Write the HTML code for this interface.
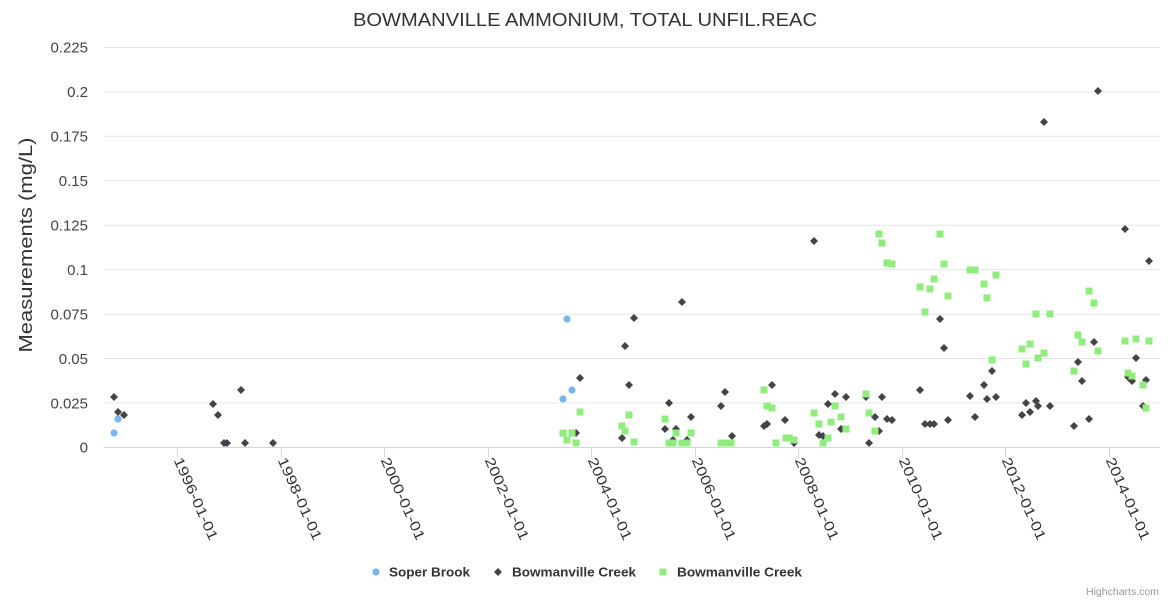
<!DOCTYPE html>
<html><head><meta charset="utf-8">
<style>
html,body{margin:0;padding:0;background:#fff;}
svg{display:block;font-family:"Liberation Sans",sans-serif;}
</style></head>
<body>
<svg width="1170" height="600" viewBox="0 0 1170 600" xmlns="http://www.w3.org/2000/svg">
<rect width="1170" height="600" fill="#fff"/>
<text x="585" y="26" text-anchor="middle" font-size="18" fill="#333" textLength="464" lengthAdjust="spacingAndGlyphs">BOWMANVILLE AMMONIUM, TOTAL UNFIL.REAC</text>
<path stroke="#e6e6e6" stroke-width="1" d="M104 47.5H1160M104 91.9H1160M104 136.3H1160M104 180.8H1160M104 225.2H1160M104 269.6H1160M104 314.1H1160M104 358.5H1160M104 402.9H1160"/>
<path d="M104 447.5H1160" stroke="#ccd6eb" stroke-width="1"/>
<path stroke="#ccd6eb" stroke-width="1" d="M177.5 447V457M281.5 447V457M384.5 447V457M488.5 447V457M591.5 447V457M695.5 447V457M798.5 447V457M902.5 447V457M1005.5 447V457M1109.5 447V457"/>
<g font-size="15" fill="#444" text-anchor="end">
<text x="88" y="52.5">0.225</text>
<text x="88" y="97">0.2</text>
<text x="88" y="141.5">0.175</text>
<text x="88" y="186">0.15</text>
<text x="88" y="230.5">0.125</text>
<text x="88" y="275">0.1</text>
<text x="88" y="319.5">0.075</text>
<text x="88" y="364">0.05</text>
<text x="88" y="408.5">0.025</text>
<text x="88" y="452.5">0</text>
</g>
<text transform="translate(32,245) rotate(-90)" text-anchor="middle" font-size="18" fill="#333" textLength="215" lengthAdjust="spacingAndGlyphs">Measurements (mg/L)</text>
<g font-size="14" fill="#333">
<text transform="translate(173.5,460) rotate(66)" textLength="89" lengthAdjust="spacingAndGlyphs">1996-01-01</text>
<text transform="translate(277.5,460) rotate(66)" textLength="89" lengthAdjust="spacingAndGlyphs">1998-01-01</text>
<text transform="translate(380.5,460) rotate(66)" textLength="89" lengthAdjust="spacingAndGlyphs">2000-01-01</text>
<text transform="translate(484.5,460) rotate(66)" textLength="89" lengthAdjust="spacingAndGlyphs">2002-01-01</text>
<text transform="translate(587.5,460) rotate(66)" textLength="89" lengthAdjust="spacingAndGlyphs">2004-01-01</text>
<text transform="translate(691.5,460) rotate(66)" textLength="89" lengthAdjust="spacingAndGlyphs">2006-01-01</text>
<text transform="translate(794.5,460) rotate(66)" textLength="89" lengthAdjust="spacingAndGlyphs">2008-01-01</text>
<text transform="translate(898.5,460) rotate(66)" textLength="89" lengthAdjust="spacingAndGlyphs">2010-01-01</text>
<text transform="translate(1001.5,460) rotate(66)" textLength="89" lengthAdjust="spacingAndGlyphs">2012-01-01</text>
<text transform="translate(1105.5,460) rotate(66)" textLength="89" lengthAdjust="spacingAndGlyphs">2014-01-01</text>
</g>
<g fill="#7cb5ec">
<circle cx="114" cy="433" r="3.6"/>
<circle cx="118" cy="419" r="3.6"/>
<circle cx="563" cy="399" r="3.6"/>
<circle cx="567" cy="319" r="3.6"/>
<circle cx="572" cy="390" r="3.6"/>
</g>
<path fill="#434348" d="M114 393l4 4-4 4-4-4zM118 408l4 4-4 4-4-4zM124 411l4 4-4 4-4-4zM213 400l4 4-4 4-4-4zM218 411l4 4-4 4-4-4zM224 439l4 4-4 4-4-4zM227 439l4 4-4 4-4-4zM241 386l4 4-4 4-4-4zM245 439l4 4-4 4-4-4zM273 439l4 4-4 4-4-4zM576 429l4 4-4 4-4-4zM580 374l4 4-4 4-4-4zM622 434l4 4-4 4-4-4zM625 342l4 4-4 4-4-4zM629 381l4 4-4 4-4-4zM634 314l4 4-4 4-4-4zM665 425l4 4-4 4-4-4zM669 399l4 4-4 4-4-4zM673 436l4 4-4 4-4-4zM676 425l4 4-4 4-4-4zM682 298l4 4-4 4-4-4zM687 436l4 4-4 4-4-4zM691 413l4 4-4 4-4-4zM721 402l4 4-4 4-4-4zM725 388l4 4-4 4-4-4zM732 432l4 4-4 4-4-4zM764 422l4 4-4 4-4-4zM767 420l4 4-4 4-4-4zM772 381l4 4-4 4-4-4zM785 416l4 4-4 4-4-4zM794 439l4 4-4 4-4-4zM814 237l4 4-4 4-4-4zM819 431l4 4-4 4-4-4zM823 432l4 4-4 4-4-4zM828 400l4 4-4 4-4-4zM835 390l4 4-4 4-4-4zM841 425l4 4-4 4-4-4zM846 393l4 4-4 4-4-4zM866 393l4 4-4 4-4-4zM869 439l4 4-4 4-4-4zM875 413l4 4-4 4-4-4zM879 427l4 4-4 4-4-4zM882 393l4 4-4 4-4-4zM887 415l4 4-4 4-4-4zM892 416l4 4-4 4-4-4zM920 386l4 4-4 4-4-4zM925 420l4 4-4 4-4-4zM930 420l4 4-4 4-4-4zM934 420l4 4-4 4-4-4zM940 315l4 4-4 4-4-4zM944 344l4 4-4 4-4-4zM948 416l4 4-4 4-4-4zM970 392l4 4-4 4-4-4zM975 413l4 4-4 4-4-4zM984 381l4 4-4 4-4-4zM987 395l4 4-4 4-4-4zM992 367l4 4-4 4-4-4zM996 393l4 4-4 4-4-4zM1022 411l4 4-4 4-4-4zM1026 399l4 4-4 4-4-4zM1030 408l4 4-4 4-4-4zM1036 397l4 4-4 4-4-4zM1038 402l4 4-4 4-4-4zM1044 118l4 4-4 4-4-4zM1050 402l4 4-4 4-4-4zM1074 422l4 4-4 4-4-4zM1078 358l4 4-4 4-4-4zM1082 377l4 4-4 4-4-4zM1089 415l4 4-4 4-4-4zM1094 338l4 4-4 4-4-4zM1098 87l4 4-4 4-4-4zM1125 225l4 4-4 4-4-4zM1128 373l4 4-4 4-4-4zM1132 377l4 4-4 4-4-4zM1136 354l4 4-4 4-4-4zM1143 402l4 4-4 4-4-4zM1146 376l4 4-4 4-4-4zM1149 257l4 4-4 4-4-4z"/>
<path fill="#90ed7d" d="M559.5 429.5h7v7h-7zM563.5 436.5h7v7h-7zM568.5 429.5h7v7h-7zM572.5 439.5h7v7h-7zM576.5 408.5h7v7h-7zM618.5 422.5h7v7h-7zM621.5 427.5h7v7h-7zM625.5 411.5h7v7h-7zM630.5 438.5h7v7h-7zM661.5 415.5h7v7h-7zM665.5 439.5h7v7h-7zM669.5 439.5h7v7h-7zM672.5 429.5h7v7h-7zM678.5 439.5h7v7h-7zM683.5 439.5h7v7h-7zM687.5 429.5h7v7h-7zM717.5 439.5h7v7h-7zM721.5 439.5h7v7h-7zM727.5 439.5h7v7h-7zM760.5 386.5h7v7h-7zM763.5 402.5h7v7h-7zM768.5 404.5h7v7h-7zM772.5 439.5h7v7h-7zM782.5 434.5h7v7h-7zM785.5 434.5h7v7h-7zM790.5 436.5h7v7h-7zM810.5 409.5h7v7h-7zM815.5 420.5h7v7h-7zM819.5 439.5h7v7h-7zM824.5 434.5h7v7h-7zM827.5 418.5h7v7h-7zM831.5 402.5h7v7h-7zM837.5 413.5h7v7h-7zM842.5 425.5h7v7h-7zM862.5 390.5h7v7h-7zM865.5 409.5h7v7h-7zM871.5 427.5h7v7h-7zM875.5 230.5h7v7h-7zM878.5 239.5h7v7h-7zM883.5 259.5h7v7h-7zM888.5 260.5h7v7h-7zM916.5 283.5h7v7h-7zM921.5 308.5h7v7h-7zM926.5 285.5h7v7h-7zM930.5 275.5h7v7h-7zM936.5 230.5h7v7h-7zM940.5 260.5h7v7h-7zM944.5 292.5h7v7h-7zM966.5 266.5h7v7h-7zM971.5 266.5h7v7h-7zM980.5 280.5h7v7h-7zM983.5 294.5h7v7h-7zM988.5 356.5h7v7h-7zM992.5 271.5h7v7h-7zM1018.5 345.5h7v7h-7zM1022.5 360.5h7v7h-7zM1026.5 340.5h7v7h-7zM1032.5 310.5h7v7h-7zM1034.5 354.5h7v7h-7zM1040.5 349.5h7v7h-7zM1046.5 310.5h7v7h-7zM1070.5 367.5h7v7h-7zM1074.5 331.5h7v7h-7zM1078.5 338.5h7v7h-7zM1085.5 287.5h7v7h-7zM1090.5 299.5h7v7h-7zM1094.5 347.5h7v7h-7zM1121.5 337.5h7v7h-7zM1124.5 369.5h7v7h-7zM1128.5 372.5h7v7h-7zM1132.5 335.5h7v7h-7zM1139.5 381.5h7v7h-7zM1142.5 404.5h7v7h-7zM1145.5 337.5h7v7h-7z"/>
<circle cx="376" cy="572" r="3.6" fill="#7cb5ec"/>
<text x="389" y="576.5" font-size="13" font-weight="bold" fill="#333" textLength="81" lengthAdjust="spacingAndGlyphs">Soper Brook</text>
<path fill="#434348" d="M498 568l4 4-4 4-4-4z"/>
<text x="512" y="576.5" font-size="13" font-weight="bold" fill="#333" textLength="124" lengthAdjust="spacingAndGlyphs">Bowmanville Creek</text>
<rect x="659.5" y="568.5" width="7" height="7" fill="#90ed7d"/>
<text x="677" y="576.5" font-size="13" font-weight="bold" fill="#333" textLength="125" lengthAdjust="spacingAndGlyphs">Bowmanville Creek</text>
<text x="1159" y="595" text-anchor="end" font-size="10" fill="#999" textLength="73" lengthAdjust="spacingAndGlyphs">Highcharts.com</text>
</svg>
</body></html>
